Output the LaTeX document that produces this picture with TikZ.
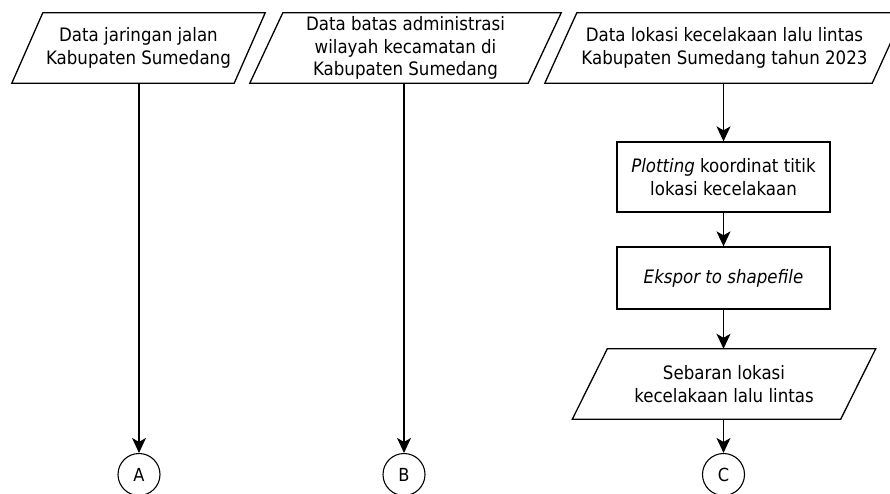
\documentclass[tikz,border=0pt]{standalone}
\usepackage{fontspec}
\setmainfont{DejaVu Sans Condensed}
\usetikzlibrary{arrows.meta,calc}
\begin{document}
\begin{tikzpicture}[x=1pt,y=-1pt,
  txt/.style={font=\fontsize{18.5}{22.5}\selectfont,align=center,inner sep=0pt},
  io/.style={txt,minimum height=70pt},
  proc/.style={txt,draw,line width=1.3pt,minimum height=#1},
  conn/.style={draw,circle,line width=1.1pt,minimum size=42pt,inner sep=0pt,font=\fontsize{18}{20}\selectfont},
  arr/.style={line width=1.3pt,-{Stealth[length=15pt,width=14pt,inset=4pt]}},
  shp/.style={line width=1.3pt,line join=miter}]
\useasboundingbox (0,0) rectangle (890,494);
% parallelogram helper
\newcommand{\pgram}[2]{\draw[shp] ($(#1.north west)+(#2,0)$) -- ($(#1.north east)+(#2,0)$) -- ($(#1.south east)+(-#2,0)$) -- ($(#1.south west)+(-#2,0)$) -- cycle;}
\node[io,minimum width=222pt] (d1) at (138.5,48) {Data jaringan jalan\\Kabupaten Sumedang};
\node[io,minimum width=278pt] (d2) at (405.5,48) {Data batas administrasi\\wilayah kecamatan di\\Kabupaten Sumedang};
\node[io,minimum width=327pt] (d3) at (724.5,48) {Data lokasi kecelakaan lalu lintas\\Kabupaten Sumedang tahun 2023};
\node[proc=70pt,minimum width=213pt] (p1) at (723.5,177) {\textit{Plotting} koordinat titik\\lokasi kecelakaan};
\node[proc=62pt,minimum width=213pt] (p2) at (723.5,278) {\textit{Ekspor to shapefile}};
\node[io,minimum width=268pt] (d4) at (724,384) {Sebaran lokasi\\kecelakaan lalu lintas};
\pgram{d1}{15.5}
\pgram{d2}{16.5}
\pgram{d3}{16}
\pgram{d4}{17.5}
\node[conn] (A) at (139,474.5) {A};
\node[conn] (B) at (404,474.5) {B};
\node[conn] (C) at (723.5,474.5) {C};
\draw[arr] (d1.south -| A) -- (A);
\draw[arr] (d2.south -| B) -- (B);
\draw[arr] (d3.south -| p1) -- (p1);
\draw[arr] (p1) -- (p2);
\draw[arr] (p2) -- (d4.north -| p2);
\draw[arr] (d4.south -| C) -- (C);
\end{tikzpicture}
\end{document}
